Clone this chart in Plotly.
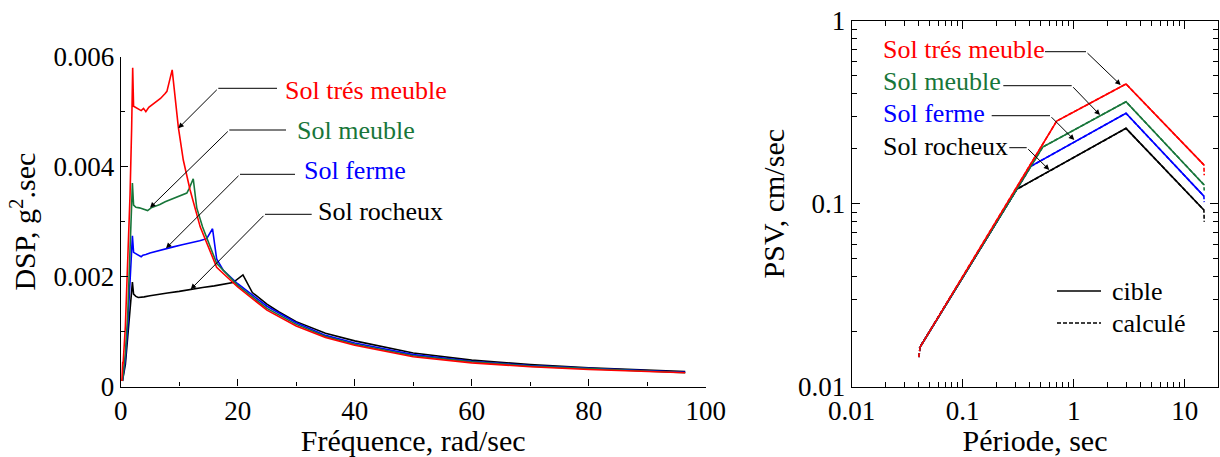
import plotly.graph_objects as go

# ---------------- Left chart: DSP vs frequency ----------------
w_tres_meuble = [0.2, 0.35, 0.4, 0.8, 1.25, 1.6, 1.87, 2.05, 2.2, 2.6, 3.0, 3.5, 3.9, 4.3, 4.8, 5.9, 6.8,
                 7.6, 7.9, 8.8, 9.85, 10.7, 11.85, 13.6, 16.4, 20, 25, 30, 35, 40, 50, 60, 70, 80, 90, 96.5]
dsp_tres_meuble = [0.0001, 0.00045, 0.0004, 0.0011, 0.0023, 0.0035, 0.0047, 0.0058, 0.0051, 0.00508, 0.00505,
                   0.00502, 0.00506, 0.00500, 0.00508, 0.00516, 0.00524, 0.00533, 0.00537, 0.00576, 0.00472,
                   0.00412, 0.00358, 0.0029, 0.00217, 0.00181, 0.00139, 0.00110, 0.00089, 0.00075, 0.00054,
                   0.00043, 0.00036, 0.00031, 0.00027, 0.00025]

w_meuble = [0.3, 0.8, 1.2, 1.6, 1.9, 2.0, 2.2, 2.6, 3.2, 3.8, 4.3, 4.6, 5.2, 6.0, 6.7, 7.6, 8.5, 9.5, 10.5,
            11.3, 11.7, 12.4, 13.0, 14.0, 16.4, 20, 25, 30, 35, 40, 50, 60, 70, 80, 90, 96.5]
dsp_meuble = [0.0001, 0.0006, 0.0013, 0.0024, 0.0033, 0.0037, 0.00330, 0.00326, 0.00325, 0.00323, 0.00322,
              0.00320, 0.00325, 0.00328, 0.00331, 0.00336, 0.00340, 0.00344, 0.00348, 0.00352, 0.00360,
              0.00378, 0.00325, 0.00290, 0.00224, 0.00184, 0.00142, 0.00113, 0.00091, 0.00077, 0.00056,
              0.00045, 0.00037, 0.00032, 0.00028, 0.00025]

w_ferme = [0.3, 0.8, 1.2, 1.6, 1.9, 2.0, 2.2, 2.7, 3.3, 3.5, 3.8, 4.3, 5.0, 6.0, 7.6, 9.0, 10.5, 12.0, 13.5,
           14.7, 15.7, 16.4, 17.5, 20, 25, 30, 35, 40, 50, 60, 70, 80, 90, 96.5]
dsp_ferme = [0.0001, 0.0005, 0.0011, 0.0019, 0.0025, 0.00274, 0.00244, 0.00241, 0.00238, 0.00236, 0.00239,
             0.00240, 0.00243, 0.00246, 0.00251, 0.00254, 0.00258, 0.00261, 0.00265, 0.00269, 0.00287,
             0.00232, 0.00212, 0.00187, 0.00146, 0.00116, 0.00093, 0.00079, 0.00058, 0.00046, 0.00038,
             0.00033, 0.00029, 0.00026]

w_rocheux = [0.3, 0.8, 1.2, 1.6, 1.9, 2.0, 2.2, 2.6, 3.0, 3.5, 4.0, 5.0, 6.0, 8.0, 10, 12, 14, 16, 18, 19.2,
             20.9, 22.5, 25, 27, 30, 35, 40, 50, 60, 70, 80, 90, 96.5]
dsp_rocheux = [0.0001, 0.0004, 0.0009, 0.0014, 0.0018, 0.0019, 0.00168, 0.00164, 0.00162, 0.00162, 0.00163,
               0.00165, 0.00167, 0.00170, 0.00173, 0.00177, 0.00180, 0.00183, 0.00186, 0.00189, 0.00203,
               0.00171, 0.00150, 0.00136, 0.00118, 0.00097, 0.00083, 0.00061, 0.00048, 0.00040, 0.00034,
               0.00030, 0.00027]

# ---------------- Right chart: PSV vs period ----------------
T_cible_tres_meuble = [0.0407, 0.703, 2.96, 14.9]
psv_cible_tres_meuble = [0.0162, 0.283, 0.451, 0.163]
T_cible_meuble = [0.0407, 0.526, 2.96, 14.9]
psv_cible_meuble = [0.0162, 0.204, 0.361, 0.127]
T_cible_ferme = [0.0407, 0.41, 2.96, 14.9]
psv_cible_ferme = [0.0162, 0.160, 0.312, 0.110]
T_cible_rocheux = [0.0407, 0.306, 2.96, 14.9]
psv_cible_rocheux = [0.0162, 0.1197, 0.258, 0.0924]

T_calc_tres_meuble = [0.0402, 0.0415, 0.703, 2.96, 14.9, 15.0]
psv_calc_tres_meuble = [0.0145, 0.0166, 0.283, 0.451, 0.163, 0.143]
T_calc_meuble = [0.0402, 0.0415, 0.526, 2.96, 14.9, 15.0]
psv_calc_meuble = [0.0145, 0.0166, 0.204, 0.361, 0.127, 0.118]
T_calc_ferme = [0.0402, 0.0415, 0.41, 2.96, 14.9, 15.0]
psv_calc_ferme = [0.0145, 0.0166, 0.160, 0.312, 0.110, 0.102]
T_calc_rocheux = [0.0402, 0.0415, 0.306, 2.96, 14.9, 15.0]
psv_calc_rocheux = [0.0145, 0.0166, 0.1197, 0.258, 0.0924, 0.0797]

labels = ["Sol trés meuble", "Sol meuble", "Sol ferme", "Sol rocheux"]
colors = ["#ff0000", "#18763a", "#0000ff", "#000000"]

FONT = "Liberation Serif, Times New Roman, serif"
W, H = 1220, 457


def px(x):
    return x / W


def py(y):
    return 1 - y / H


fig = go.Figure()

left_series = [(w_tres_meuble, dsp_tres_meuble), (w_meuble, dsp_meuble),
               (w_ferme, dsp_ferme), (w_rocheux, dsp_rocheux)]
for (wx, vy), lab, col in reversed(list(zip(left_series, labels, colors))):
    fig.add_trace(go.Scatter(x=wx, y=vy, mode="lines", name=lab,
                             line=dict(color=col, width=1.6), showlegend=False,
                             xaxis="x", yaxis="y"))

calc_series = [(T_calc_tres_meuble, psv_calc_tres_meuble), (T_calc_meuble, psv_calc_meuble),
               (T_calc_ferme, psv_calc_ferme), (T_calc_rocheux, psv_calc_rocheux)]
cible_series = [(T_cible_tres_meuble, psv_cible_tres_meuble), (T_cible_meuble, psv_cible_meuble),
                (T_cible_ferme, psv_cible_ferme), (T_cible_rocheux, psv_cible_rocheux)]
for (tx, vy), lab, col in reversed(list(zip(calc_series, labels, colors))):
    fig.add_trace(go.Scatter(x=tx, y=vy, mode="lines", name=lab + " calculé",
                             line=dict(color=col, width=1.6, dash="4px,2px"), showlegend=False,
                             xaxis="x2", yaxis="y2"))
for (tx, vy), lab, col in reversed(list(zip(cible_series, labels, colors))):
    fig.add_trace(go.Scatter(x=tx, y=vy, mode="lines", name=lab + " cible",
                             line=dict(color=col, width=1.6), showlegend=False,
                             xaxis="x2", yaxis="y2"))

tickfont = dict(family=FONT, size=27, color="black")
titlefont = dict(family=FONT, size=30, color="black")

common = dict(showgrid=False, zeroline=False, automargin=False, tickfont=tickfont,
              tickcolor="black", tickwidth=1, showline=True, linecolor="black")

fig.update_layout(
    width=W, height=H,
    margin=dict(l=0, r=0, t=0, b=0),
    paper_bgcolor="white", plot_bgcolor="white",
    font=dict(family=FONT, color="black"),
    showlegend=False,
    xaxis=dict(domain=[px(120.7), px(705.7)], range=[0, 100], tick0=0, dtick=20,
               ticks="inside", ticklen=7, linewidth=1.2,
               minor=dict(dtick=10, ticks="inside", ticklen=4, tickcolor="black", showgrid=False),
               anchor="y",
               title=dict(text="Fréquence, rad/sec", font=titlefont, standoff=2), **common),
    yaxis=dict(domain=[py(386.5), py(56.7)], range=[0, 0.006], tick0=0, dtick=0.002,
               ticks="inside", ticklen=7, linewidth=1.2,
               minor=dict(dtick=0.001, ticks="inside", ticklen=4, tickcolor="black", showgrid=False),
               anchor="x",
               title=dict(text="DSP, g<sup>2</sup>.sec", font=titlefont, standoff=8), **common),
    xaxis2=dict(domain=[px(851.7), px(1218.3)], type="log", range=[-2, 1.303],
                tickmode="array", tickvals=[0.01, 0.1, 1, 10], ticktext=["0.01", "0.1", "1", "10"],
                ticks="inside", ticklen=8, linewidth=1.3, mirror="ticks",
                minor=dict(dtick="D1", ticks="inside", ticklen=5, tickcolor="black", showgrid=False),
                anchor="y2",
                title=dict(text="Période, sec", font=titlefont, standoff=2), **common),
    yaxis2=dict(domain=[py(386.7), py(20.7)], type="log", range=[-2, 0],
                tickmode="array", tickvals=[0.01, 0.1, 1], ticktext=["0.01", "0.1", "1"],
                ticks="inside", ticklen=8, linewidth=1.3, mirror="ticks",
                minor=dict(dtick="D1", ticks="inside", ticklen=5, tickcolor="black", showgrid=False),
                anchor="x2",
                title=dict(text="PSV, cm/sec", font=titlefont, standoff=4), **common),
)

annfont = 26
shapes = []
annotations = []

# Callouts in pixels: (text_left_x, text_center_y, line_x0, line_x1, line_y, elbow_x, tip_x, tip_y)
left_callouts = [
    (283.0, 90.0, 218.3, 277.0, 88.3, 218.3, 178.3, 128.3),
    (294.7, 130.7, 229.3, 286.0, 130.0, 229.3, 150.0, 207.7),
    (302.0, 170.7, 240.0, 295.0, 174.3, 240.0, 166.0, 248.3),
    (316.3, 211.7, 265.0, 311.7, 214.3, 265.0, 190.7, 289.3),
]
right_callouts = [
    (881.3, 49.3, 1045.0, 1086.0, 51.7, 1086.0, 1120.7, 85.0),
    (881.3, 81.0, 1003.3, 1071.7, 85.7, 1071.7, 1100.0, 115.0),
    (881.3, 113.3, 991.7, 1050.0, 115.7, 1050.0, 1074.3, 140.0),
    (881.3, 146.7, 1009.3, 1026.7, 147.7, 1026.7, 1049.3, 170.0),
]

for callouts in (left_callouts, right_callouts):
    for (tx, ty, lx0, lx1, ly, ex, ax_, ay_), lab, col in zip(callouts, labels, colors):
        annotations.append(dict(x=px(tx), y=py(ty), xref="paper", yref="paper", text=lab,
                                showarrow=False, xanchor="left", yanchor="middle",
                                font=dict(family=FONT, size=annfont, color=col)))
        shapes.append(dict(type="line", xref="paper", yref="paper",
                           x0=px(lx0), x1=px(lx1), y0=py(ly), y1=py(ly),
                           line=dict(color="black", width=1)))
        annotations.append(dict(x=px(ax_), y=py(ay_), xref="paper", yref="paper", text="",
                                showarrow=True, arrowhead=2, arrowsize=1.1, arrowwidth=1,
                                arrowcolor="black", ax=ex - ax_, ay=ly - ay_, standoff=0))

# Legend (right chart)
legend_items = [("cible", "solid", 291.0), ("calculé", "4px,2px", 323.0)]
for text, dash, yy in legend_items:
    shapes.append(dict(type="line", xref="paper", yref="paper",
                       x0=px(1057), x1=px(1101), y0=py(yy), y1=py(yy),
                       line=dict(color="black", width=1.4, dash=dash)))
    annotations.append(dict(x=px(1110), y=py(yy), xref="paper", yref="paper", text=text,
                            showarrow=False, xanchor="left", yanchor="middle",
                            font=dict(family=FONT, size=annfont, color="black")))

fig.update_layout(shapes=shapes, annotations=annotations)

fig.write_html("out.html")
